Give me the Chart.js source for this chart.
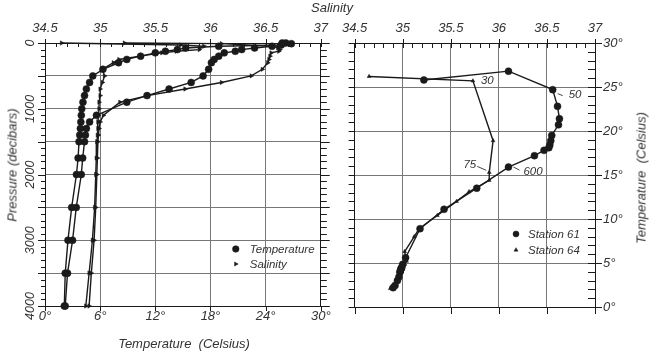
<!DOCTYPE html>
<html>
<head>
<meta charset="utf-8">
<script src="https://cdn.jsdelivr.net/npm/chart.js@4.4.1/dist/chart.umd.min.js"></script>
<style>
  html, body { margin: 0; padding: 0; background: #fff; }
  #wrap { position: relative; width: 650px; height: 352px; overflow: hidden;
          font-family: "Liberation Sans", Arial, sans-serif; font-style: italic; color: #333; }
  canvas { position: absolute; top: 0; }
  .t { position: absolute; font-size: 13px; line-height: 15px; white-space: pre; }
  .rot { transform: translate(-50%, -50%) rotate(-90deg); }
</style>
</head>
<body>
<div id="wrap">
  <canvas id="profile" width="335" height="352" style="left:0"></canvas>
  <canvas id="ts" width="315" height="352" style="left:335px"></canvas>
  <div class="t" style="left:332px;top:0;transform:translateX(-50%)">Salinity</div>
  <div class="t" style="left:184px;top:336px;transform:translateX(-50%)">Temperature  (Celsius)</div>
  <div class="t rot" style="left:12px;top:165px">Pressure (decibars)</div>
  <div class="t rot" style="left:641px;top:178px">Temperature  (Celsius)</div>
</div>
<script>
// station 61
const pressure61 = [0, 10, 50, 75, 100, 125, 150, 200, 250, 300, 400, 500, 600, 700, 800, 900,
  1100, 1200, 1300, 1400, 1500, 1750, 2000, 2500, 3000, 3500, 4000];
const temp61 = [25.8, 26.8, 24.7, 22.8, 21.4, 20.7, 19.5, 18.9, 18.4, 18.1, 17.8, 17.2, 15.9, 13.5, 11.1, 8.9,
  5.6, 4.85, 4.5, 4.4, 4.3, 4.1, 3.95, 3.4, 3.0, 2.45, 2.2];
const sal61 = [35.22, 36.10, 36.56, 36.61, 36.63, 36.62, 36.55, 36.54, 36.53, 36.52, 36.47, 36.37, 36.10, 35.77, 35.43, 35.18,
  35.03, 35.0, 34.99, 34.985, 34.98, 34.975, 34.97, 34.96, 34.945, 34.92, 34.9];

// station 64
const pressure64 = [0, 30, 50, 75, 100, 125, 150, 200, 250, 300, 400, 500, 600, 700, 800, 900,
  1000, 1100, 1200, 1300, 1400, 1500, 1750, 2000, 2500, 3000, 3500, 4000];
const temp64 = [26.2, 25.7, 18.9, 15.3, 14.4, 13.1, 12.0, 10.4, 8.9, 8.0, 6.3, 5.2, 4.85, 4.5, 4.3, 4.13,
  4.0, 3.95, 3.9, 3.85, 3.78, 3.7, 3.6, 3.42, 2.9, 2.5, 2.2, 2.1];
const sal64 = [34.65, 35.73, 35.94, 35.90, 35.90, 35.69, 35.56, 35.36, 35.17, 35.12, 35.02, 35.04, 35.02, 35.0, 35.0, 34.99,
  34.99, 34.985, 34.98, 34.98, 34.975, 34.97, 34.965, 34.96, 34.95, 34.93, 34.9, 34.87];

const profileNames = ['Temperature', 'Salinity'];
const stationNames = ['Station 61', 'Station 64'];
// pressures written next to points of the T-S curve
const labelled61 = [50, 600];
const labelled64 = [30, 75];

const FONT = { family: '"Liberation Sans", Arial, sans-serif', size: 13, style: 'italic' };
const INK = '#1a1a1a', TEXT = '#333', GRID = '#777';
const fontStr = px => 'italic ' + px + 'px "Liberation Sans", Arial, sans-serif';
const salLabel = v => String(Math.round(v * 10) / 10);

function drawMarker(ctx, style, rot, r, x, y) {
  if (Chart.helpers && Chart.helpers.drawPoint) {
    Chart.helpers.drawPoint(ctx, { pointStyle: style, rotation: rot, radius: r, borderWidth: 0.5 }, x, y);
    return;
  }
  ctx.beginPath();
  ctx.arc(x, y, r, 0, Math.PI * 2);
  ctx.fill();
}

// small tick marks along the frame, placed through the scales
const tickMarks = {
  id: 'tickMarks',
  afterDraw(chart, args, opts) {
    const ctx = chart.ctx;
    ctx.save();
    ctx.strokeStyle = INK;
    ctx.lineWidth = 1;
    opts.marks.forEach(m => {
      const s = chart.scales[m.axis];
      const out = (s.position === 'top' || s.position === 'left') ? -1 : 1;
      const dir = m.inward ? -out : out;
      const base = s.position === 'top' ? s.bottom : s.position === 'bottom' ? s.top
        : s.position === 'left' ? s.right : s.left;
      const n = Math.round((s.max - s.min) / m.step);
      for (let i = 0; i <= n; i++) {
        const p = Math.round(s.getPixelForValue(s.min + i * m.step)) + 0.5;
        ctx.beginPath();
        if (s.isHorizontal()) { ctx.moveTo(p, base); ctx.lineTo(p, base + dir * m.len); }
        else { ctx.moveTo(base, p); ctx.lineTo(base + dir * m.len, p); }
        ctx.stroke();
      }
    });
    ctx.restore();
  }
};

// vertical pressure labels
const pressureLabels = {
  id: 'pressureLabels',
  afterDraw(chart) {
    const s = chart.scales.y, ctx = chart.ctx;
    ctx.save();
    ctx.font = fontStr(12.5);
    ctx.fillStyle = TEXT;
    ctx.textAlign = 'center';
    ctx.textBaseline = 'middle';
    s.ticks.forEach(t => {
      if (t.value % 1000) return;
      ctx.save();
      ctx.translate(s.right - 14, s.getPixelForValue(t.value));
      ctx.rotate(-Math.PI / 2);
      ctx.fillText(String(t.value), 0, 0);
      ctx.restore();
    });
    ctx.restore();
  }
};

// legend inside the plot area
const boxLegend = {
  id: 'boxLegend',
  afterDraw(chart, args, opts) {
    const ctx = chart.ctx, a = chart.chartArea;
    ctx.save();
    ctx.font = fontStr(11.5);
    ctx.textBaseline = 'middle';
    ctx.textAlign = 'left';
    opts.items.forEach((it, i) => {
      const x = a.right + opts.dx, y = a.bottom + opts.dy + i * opts.gap;
      ctx.fillStyle = INK; ctx.strokeStyle = INK;
      drawMarker(ctx, it.style, it.rot, it.r, x, y);
      ctx.fillStyle = TEXT;
      ctx.fillText(it.text, x + opts.textDx, y + 1);
    });
    ctx.restore();
  }
};

// pressure labels on the T-S curve
const depthLabels = {
  id: 'depthLabels',
  afterDraw(chart, args, opts) {
    const ctx = chart.ctx;
    ctx.save();
    ctx.font = fontStr(11.5);
    ctx.fillStyle = TEXT;
    ctx.strokeStyle = '#444';
    ctx.lineWidth = 1;
    ctx.textBaseline = 'middle';
    opts.items.forEach(it => {
      const idx = opts.pressures[it.ds].indexOf(it.p);
      const pt = chart.getDatasetMeta(it.ds).data[idx];
      if (!pt) return;
      if (it.lead) {
        ctx.beginPath();
        ctx.moveTo(pt.x + it.lead[0], pt.y + it.lead[1]);
        ctx.lineTo(pt.x + it.lead[2], pt.y + it.lead[3]);
        ctx.stroke();
      }
      ctx.textAlign = it.align;
      ctx.fillText(String(it.p), pt.x + it.dx, pt.y + it.dy);
    });
    ctx.restore();
  }
};

function line(xs, ys, xAxis, yAxis, style, rot, r, label) {
  return {
    label: label,
    data: xs.map((v, i) => ({ x: v, y: ys[i] })),
    xAxisID: xAxis, yAxisID: yAxis,
    showLine: true,
    borderColor: INK, backgroundColor: INK,
    borderWidth: 1.4,
    pointStyle: style, pointRotation: rot, pointRadius: r,
    pointBorderColor: INK, pointBorderWidth: 0.5,
    clip: false
  };
}

const common = {
  responsive: false, animation: false, events: [],
  layout: { padding: 0 }
};

const profileChart = new Chart(document.getElementById('profile'), {
  type: 'scatter',
  data: {
    datasets: [
      line(temp61, pressure61, 'x', 'y', 'circle', 0, 3.5, profileNames[0] + ' 61'),
      line(temp64, pressure64, 'x', 'y', 'circle', 0, 3.5, profileNames[0] + ' 64'),
      line(sal61, pressure61, 'x2', 'y', 'triangle', 90, 2.5, profileNames[1] + ' 61'),
      line(sal64, pressure64, 'x2', 'y', 'triangle', 90, 2.5, profileNames[1] + ' 64')
    ]
  },
  options: Object.assign({}, common, {
    plugins: {
      legend: { display: false }, tooltip: { enabled: false },
      tickMarks: { marks: [
        { axis: 'x2', step: 0.1, len: 4, inward: true },
        { axis: 'x2', step: 0.5, len: 4 },
        { axis: 'x', step: 6, len: 5 },
        { axis: 'y', step: 100, len: 4 },
        { axis: 'y', step: 500, len: 7 },
        { axis: 'yr', step: 100, len: 6 },
        { axis: 'yr', step: 500, len: 9 }
      ] },
      boxLegend: { dx: -85, dy: -57, gap: 15, textDx: 14, items: [
        { text: profileNames[0], style: 'circle', rot: 0, r: 3.3 },
        { text: profileNames[1], style: 'triangle', rot: 90, r: 2.4 }
      ] }
    },
    scales: {
      x: { type: 'linear', position: 'bottom', min: 0, max: 30,
        afterFit: s => { s.height = 46; },
        ticks: { stepSize: 6, callback: v => v + '°', font: FONT, color: TEXT, padding: 3,
          maxRotation: 0, autoSkip: false },
        grid: { color: GRID, drawTicks: false }, border: { color: INK } },
      x2: { type: 'linear', position: 'top', min: 34.5, max: 37,
        afterFit: s => { s.height = 43; },
        ticks: { stepSize: 0.5, callback: salLabel, font: FONT, color: TEXT, padding: 7,
          maxRotation: 0, autoSkip: false },
        grid: { drawOnChartArea: false, drawTicks: false }, border: { color: INK } },
      y: { type: 'linear', position: 'left', reverse: true, min: 0, max: 4000,
        afterFit: s => { s.width = 45; },
        ticks: { stepSize: 500, display: false },
        grid: { color: GRID, drawTicks: false }, border: { color: INK } },
      yr: { type: 'linear', position: 'right', reverse: true, min: 0, max: 4000,
        afterFit: s => { s.width = 12; },
        ticks: { stepSize: 500, display: false },
        grid: { drawOnChartArea: false, drawTicks: false }, border: { color: INK } }
    }
  }),
  plugins: [tickMarks, pressureLabels, boxLegend]
});

const tsChart = new Chart(document.getElementById('ts'), {
  type: 'scatter',
  data: {
    datasets: [
      line(sal61, temp61, 'x', 'yr', 'circle', 0, 3.5, stationNames[0]),
      line(sal64, temp64, 'x', 'yr', 'triangle', 0, 2.2, stationNames[1])
    ]
  },
  options: Object.assign({}, common, {
    plugins: {
      legend: { display: false }, tooltip: { enabled: false },
      tickMarks: { marks: [
        { axis: 'x2', step: 0.1, len: 5, inward: true },
        { axis: 'x2', step: 0.5, len: 4 },
        { axis: 'x', step: 0.5, len: 7 },
        { axis: 'y', step: 1, len: 6 },
        { axis: 'yr', step: 1, len: 7, inward: true },
        { axis: 'yr', step: 5, len: 7 }
      ] },
      boxLegend: { dx: -79, dy: -73, gap: 16, textDx: 12, items: [
        { text: stationNames[0], style: 'circle', rot: 0, r: 3 },
        { text: stationNames[1], style: 'triangle', rot: 0, r: 2.3 }
      ] },
      depthLabels: { pressures: [pressure61, pressure64], items: [
        { ds: 1, p: labelled64[0], dx: 8, dy: 0, align: 'left' },
        { ds: 0, p: labelled61[0], dx: 16, dy: 5, align: 'left', lead: [5, 4, 10, 6] },
        { ds: 1, p: labelled64[1], dx: -13, dy: -8, align: 'right', lead: [-12, -6, -3, -2] },
        { ds: 0, p: labelled61[1], dx: 15, dy: 4.5, align: 'left', lead: [5, 0, 11, 3] }
      ] }
    },
    scales: {
      x: { type: 'linear', position: 'bottom', min: 34.5, max: 37,
        afterFit: s => { s.height = 45; },
        ticks: { stepSize: 0.5, display: false },
        grid: { color: GRID, drawTicks: false }, border: { color: INK } },
      x2: { type: 'linear', position: 'top', min: 34.5, max: 37,
        afterFit: s => { s.height = 43; },
        ticks: { stepSize: 0.5, callback: salLabel, font: FONT, color: TEXT, padding: 7,
          maxRotation: 0, autoSkip: false },
        grid: { drawOnChartArea: false, drawTicks: false }, border: { color: INK } },
      y: { type: 'linear', position: 'left', min: 0, max: 30,
        afterFit: s => { s.width = 9; },
        ticks: { stepSize: 5, display: false },
        grid: { drawOnChartArea: false, drawTicks: false }, border: { color: INK } },
      yr: { type: 'linear', position: 'right', min: 0, max: 30,
        afterFit: s => { s.width = 55; },
        ticks: { stepSize: 5, callback: v => v + '°', font: FONT, color: TEXT, padding: 8 },
        grid: { color: GRID, drawTicks: false }, border: { color: INK } }
    }
  }),
  plugins: [tickMarks, boxLegend, depthLabels]
});
</script>
</body>
</html>
